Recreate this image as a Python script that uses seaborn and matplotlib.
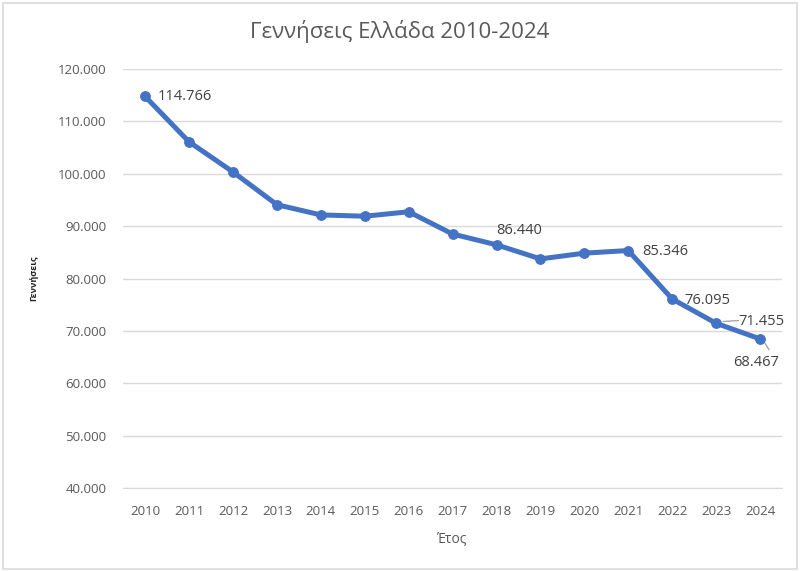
import matplotlib
matplotlib.use("Agg")
import matplotlib.pyplot as plt
import seaborn as sns
import pandas as pd
from matplotlib.patches import Rectangle
from matplotlib.ticker import FuncFormatter

# Γεννήσεις ανά έτος (τιμές από το γράφημα)
years = ["2010", "2011", "2012", "2013", "2014", "2015", "2016", "2017",
         "2018", "2019", "2020", "2021", "2022", "2023", "2024"]
births = [114766, 106100, 100350, 94100, 92150, 91900, 92750, 88500,
          86440, 83750, 84850, 85346, 76095, 71455, 68467]
labelled = ["2010", "2018", "2021", "2022", "2023", "2024"]

df = pd.DataFrame({"year": years, "births": births})

sns.set_style("white")
plt.rcParams["font.family"] = ["Open Sans", "DejaVu Sans"]
text_col = "#595959"
line_col = "#4472C4"

fig = plt.figure(figsize=(8, 5.71), dpi=100)
ax = fig.add_axes([0.154, 0.1454, 0.8235, 0.7336])

sns.lineplot(data=df, x="year", y="births", ax=ax, color=line_col,
             linewidth=3.6, marker="o", markersize=7,
             markeredgecolor=line_col, sort=False)

ax.set_xlim(-0.5, len(years) - 0.5)
ax.set_ylim(40000, 120000)
ax.set_yticks(range(40000, 120001, 10000))
ax.yaxis.set_major_formatter(FuncFormatter(lambda v, p: f"{int(v):,}".replace(",", ".")))
ax.grid(axis="y", color="#d9d9d9", linewidth=1)
ax.set_axisbelow(True)
for s in ["left", "right", "top"]:
    ax.spines[s].set_visible(False)
ax.spines["bottom"].set_color("#d9d9d9")
ax.tick_params(axis="y", length=0, labelsize=9.5, colors=text_col, pad=12)
ax.tick_params(axis="x", length=0, labelsize=9.5, colors=text_col, pad=12)

ax.set_xlabel("Έτος", fontsize=10, color=text_col, labelpad=10)
ax.set_ylabel("Γεννήσεις", fontsize=6.5, color="#222222", labelpad=14,
              fontweight="bold")
fig.suptitle("Γεννήσεις Ελλάδα 2010-2024", x=0.5, y=0.965, fontsize=16,
             color=text_col)

fmt = lambda v: f"{v:,}".replace(",", ".")
offsets = {"2010": (9, 0, "left"),
           "2018": (0, 10, "left"),
           "2021": (10, -1, "left"),
           "2022": (9, -1, "left"),
           "2023": (16, 1, "left"),
           "2024": (-3, -17, "center")}
for yr in labelled:
    i = years.index(yr)
    dx, dy, ha = offsets[yr]
    ax.annotate(fmt(births[i]), (i, births[i]), xytext=(dx, dy),
                textcoords="offset points", ha=ha, va="center",
                fontsize=10.5, color="#404040")
# leader lines
i = years.index("2023")
ax.annotate("", (i + 0.1, births[i] + 300), xytext=(15, 1), textcoords="offset points",
            arrowprops=dict(arrowstyle="-", color="#a6a6a6", lw=1))
i = years.index("2024")
ax.annotate("", (i + 0.08, births[i] - 400), xytext=(5, -8), textcoords="offset points",
            arrowprops=dict(arrowstyle="-", color="#a6a6a6", lw=1))

fig.patches.append(Rectangle((0.004, 0.004), 0.992, 0.99, transform=fig.transFigure,
                             fill=False, edgecolor="#d9d9d9", linewidth=1.2))

fig.savefig("out.png", dpi=100)
